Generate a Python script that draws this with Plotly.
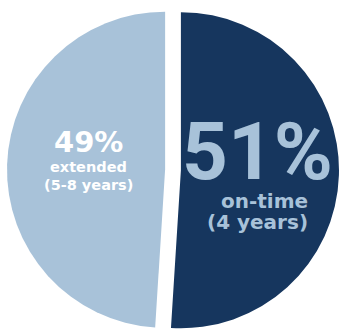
import plotly.graph_objects as go

# Share of students by time to degree
labels = ["on-time", "extended"]
spans = ["(4 years)", "(5-8 years)"]
shares = [51, 49]
slice_colors = ["#16365E", "#A8C2D9"]
text_colors = ["#A8C2D9", "#FFFFFF"]

W, H = 339, 340
M = dict(l=7, r=0, t=4, b=4)
PW = W - M["l"] - M["r"]
PH = H - M["t"] - M["b"]


def px_to_paper(px, py):
    return (px - M["l"]) / PW, 1 - (py - M["t"]) / PH


fig = go.Figure(
    go.Pie(
        labels=labels,
        values=shares,
        sort=False,
        direction="clockwise",
        rotation=0,
        pull=[0.05, 0.05],
        marker=dict(colors=slice_colors, line=dict(width=0)),
        textinfo="none",
        hoverinfo="skip",
        showlegend=False,
    )
)


def add_text(text, px, py, size, color, family="DejaVu Sans"):
    x, y = px_to_paper(px, py)
    fig.add_annotation(
        x=x, y=y, xref="paper", yref="paper",
        xanchor="center", yanchor="middle",
        text=f"<b>{text}</b>", showarrow=False,
        font=dict(family=family, size=size, color=color),
    )


# on-time slice (right)
add_text(f"{shares[0]}%", 257, 152, 80, text_colors[0], family="Roboto")
add_text(labels[0], 264, 201, 20, text_colors[0])
add_text(spans[0], 257, 222, 20, text_colors[0])

# extended slice (left)
add_text(f"{shares[1]}%", 88, 142, 29, text_colors[1])
add_text(labels[1], 88, 167, 14.5, text_colors[1])
add_text(spans[1], 88, 185, 14.5, text_colors[1])

fig.update_layout(
    width=W,
    height=H,
    margin=M,
    paper_bgcolor="white",
    plot_bgcolor="white",
)

fig.write_html(
    "out.html",
    post_script="document.documentElement.style.overflow='hidden';document.body.style.overflow='hidden';document.body.style.margin='0';",
)
